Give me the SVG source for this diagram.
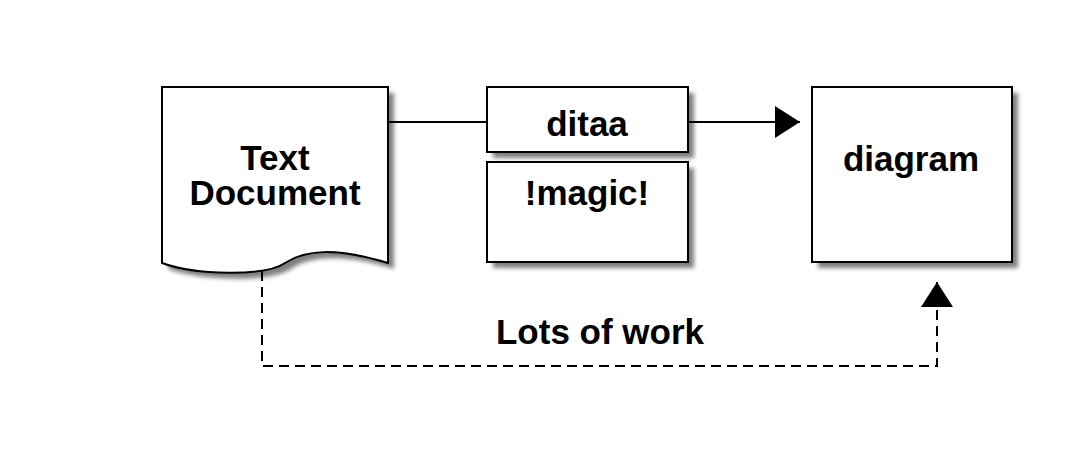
<svg xmlns="http://www.w3.org/2000/svg" width="1075" height="455" viewBox="0 0 1075 455">
<defs>
<filter id="sh" x="-10%" y="-10%" width="130%" height="130%">
<feGaussianBlur stdDeviation="2"/>
</filter>
<marker id="ah" markerWidth="26" markerHeight="32" refX="25" refY="16" orient="auto" markerUnits="userSpaceOnUse">
<path d="M0,0 L25,16 L0,32 Z" fill="#000"/>
</marker>
</defs>
<style>
.box{fill:#fff;stroke:#000;stroke-width:2}
.shadow{fill:#808080;filter:url(#sh)}
.lbl{font-family:"Liberation Sans",Arial,sans-serif;font-weight:bold;font-size:35px;text-anchor:middle;fill:#000}
.conn{fill:none;stroke:#000;stroke-width:2}
.dash{stroke-dasharray:10,6}
</style>
<rect width="1075" height="455" fill="#fff"/>
<g id="textdoc">
<path class="shadow" d="M168,93 L394,93 L394,269 C341,253 311,256 291,269 C271,283 201,281 168,269 Z"/>
<path class="box" d="M162,87 L388,87 L388,263 C335,247 305,250 285,263 C265,277 195,275 162,263 Z"/>
<text class="lbl" x="275" y="170">Text</text>
<text class="lbl" x="275" y="205">Document</text>
</g>
<g id="ditaa">
<rect class="shadow" x="493" y="93" width="201" height="65"/>
<rect class="box" x="487" y="87" width="201" height="65"/>
<text class="lbl" x="587" y="136">ditaa</text>
</g>
<g id="magic">
<rect class="shadow" x="493" y="168" width="201" height="100"/>
<rect class="box" x="487" y="162" width="201" height="100"/>
<text class="lbl" x="587" y="205">!magic!</text>
</g>
<g id="diagram">
<rect class="shadow" x="818" y="93" width="200" height="175"/>
<rect class="box" x="812" y="87" width="200" height="175"/>
<text class="lbl" x="911" y="171">diagram</text>
</g>
<g id="connectors">
<line class="conn" x1="388" y1="122" x2="487" y2="122"/>
<line class="conn" x1="688" y1="122" x2="800" y2="122" marker-end="url(#ah)"/>
<path class="conn dash" d="M262,271 L262,366 L937,366 L937,282" marker-end="url(#ah)"/>
<text class="lbl" x="600" y="344">Lots of work</text>
</g>
</svg>
